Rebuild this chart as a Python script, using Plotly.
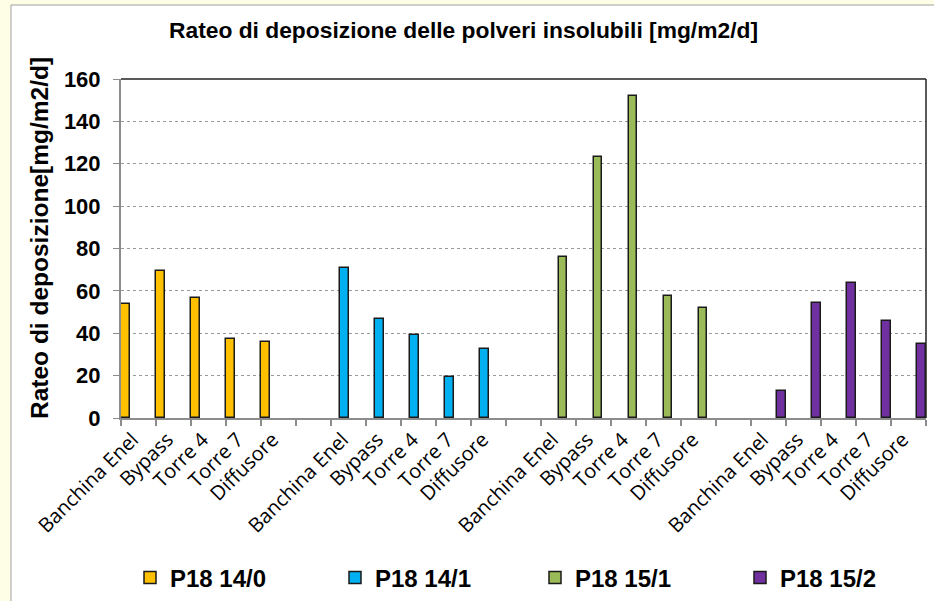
import plotly.graph_objects as go

# Monitoring sites, repeated for each campaign
sites = ["Banchina Enel", "Bypass", "Torre 4", "Torre 7", "Diffusore"]
campaigns = ["P18 14/0", "P18 14/1", "P18 15/1", "P18 15/2"]
colors = ["#FFC000", "#00B0F0", "#9BBB59", "#7030A0"]

# Insoluble dust deposition rate [mg/m2/d] per site, one list per campaign
p18_14_0 = [54.0, 69.5, 56.8, 37.3, 36.0]
p18_14_1 = [70.8, 46.7, 39.1, 19.2, 32.5]
p18_15_1 = [76.1, 123.1, 151.8, 57.5, 51.9]
p18_15_2 = [12.8, 54.1, 63.7, 45.7, 34.7]
series = [p18_14_0, p18_14_1, p18_15_1, p18_15_2]

y_ticks = [0, 20, 40, 60, 80, 100, 120, 140, 160]

W, H = 934, 601
ML, MR, MT, MB = 121, 8, 79, 183
PW, PH = W - ML - MR, H - MT - MB


def px_x(px):
    return (px - ML) / PW


def px_y(py):
    return (H - MB - py) / PH


# each campaign takes a block of five sites followed by one empty slot
block = len(sites) + 1
n_slots = block * len(campaigns) - 1

# one legend box per campaign, spaced along the bottom
legend_ids = ["legend", "legend2", "legend3", "legend4"]
legend_left = [130, 335, 535, 740]

fig = go.Figure()
for k, (name, vals, col) in enumerate(zip(campaigns, series, colors)):
    y = [None] * n_slots
    for i, v in enumerate(vals):
        y[k * block + i] = v
    fig.add_trace(go.Bar(
        x=list(range(n_slots)), y=y, name=name, legend=legend_ids[k],
        marker=dict(color=col, line=dict(color="#1a1a1a", width=1.5)),
    ))

tickvals, ticktext = [], []
for k in range(len(campaigns)):
    for i, s in enumerate(sites):
        tickvals.append(k * block + i)
        ticktext.append(s)

legend_style = dict(
    orientation="h", xanchor="left", y=px_y(578), yanchor="middle",
    font=dict(family="Liberation Sans", size=24, color="black", weight="bold"),
    bgcolor="rgba(0,0,0,0)",
)

fig.update_layout(
    width=W, height=H,
    margin=dict(l=ML, r=MR, t=MT, b=MB, autoexpand=False),
    paper_bgcolor="#FEFEE6",
    plot_bgcolor="white",
    barmode="group", bargap=0, bargroupgap=0,
    showlegend=True,
    xaxis=dict(
        range=[-0.5, n_slots - 0.5], automargin=False,
        tickmode="array", tickvals=tickvals, ticktext=ticktext,
        tickangle=-45, ticks="", ticklabelshift=-6,
        tickfont=dict(family="Open Sans", size=20, color="black"),
        showline=True, linecolor="#8c8c8c", linewidth=2,
        showgrid=False, zeroline=False,
        minor=dict(tick0=-0.5, dtick=1, ticks="outside", ticklen=6,
                   tickcolor="#8c8c8c", tickwidth=2, showgrid=False),
    ),
    yaxis=dict(
        range=[0, 160], tickmode="array", tickvals=y_ticks, automargin=False,
        ticks="outside", ticklen=6, tickcolor="#8c8c8c", tickwidth=1,
        ticklabelstandoff=8,
        tickfont=dict(family="Liberation Sans", size=22, color="black",
                      weight="bold"),
        showline=True, linecolor="#8c8c8c", linewidth=2,
        showgrid=True, gridcolor="#9a9a9a", griddash="dot", gridwidth=1,
        zeroline=False,
    ),
    shapes=[
        # white chart panel with thin grey frame
        dict(type="rect", xref="paper", yref="paper", layer="below",
             x0=px_x(11), x1=px_x(945), y0=px_y(612), y1=px_y(5),
             fillcolor="white", line=dict(color="#a0a0a0", width=1)),
        # dark frame on top and right of the plot area
        dict(type="line", xref="paper", yref="paper", x0=0, x1=1, y0=1, y1=1,
             line=dict(color="#222222", width=1.5)),
        dict(type="line", xref="paper", yref="paper", x0=1, x1=1, y0=0, y1=1,
             line=dict(color="#222222", width=1.5)),
    ],
    annotations=[
        dict(text="Rateo di deposizione delle polveri insolubili [mg/m2/d]",
             xref="paper", yref="paper", x=px_x(463), y=px_y(30),
             xanchor="center", yanchor="middle", showarrow=False,
             font=dict(family="Liberation Sans", size=22.8, color="black",
                       weight="bold")),
        dict(text="Rateo di deposizione[mg/m2/d]",
             xref="paper", yref="paper", x=px_x(40), y=px_y(238),
             xanchor="center", yanchor="middle", showarrow=False, textangle=-90,
             font=dict(family="Liberation Sans", size=24.5, color="black",
                       weight="bold")),
    ],
)
for lid, left in zip(legend_ids, legend_left):
    fig.update_layout({lid: dict(legend_style, x=px_x(left))})

fig.write_html("out.html")
